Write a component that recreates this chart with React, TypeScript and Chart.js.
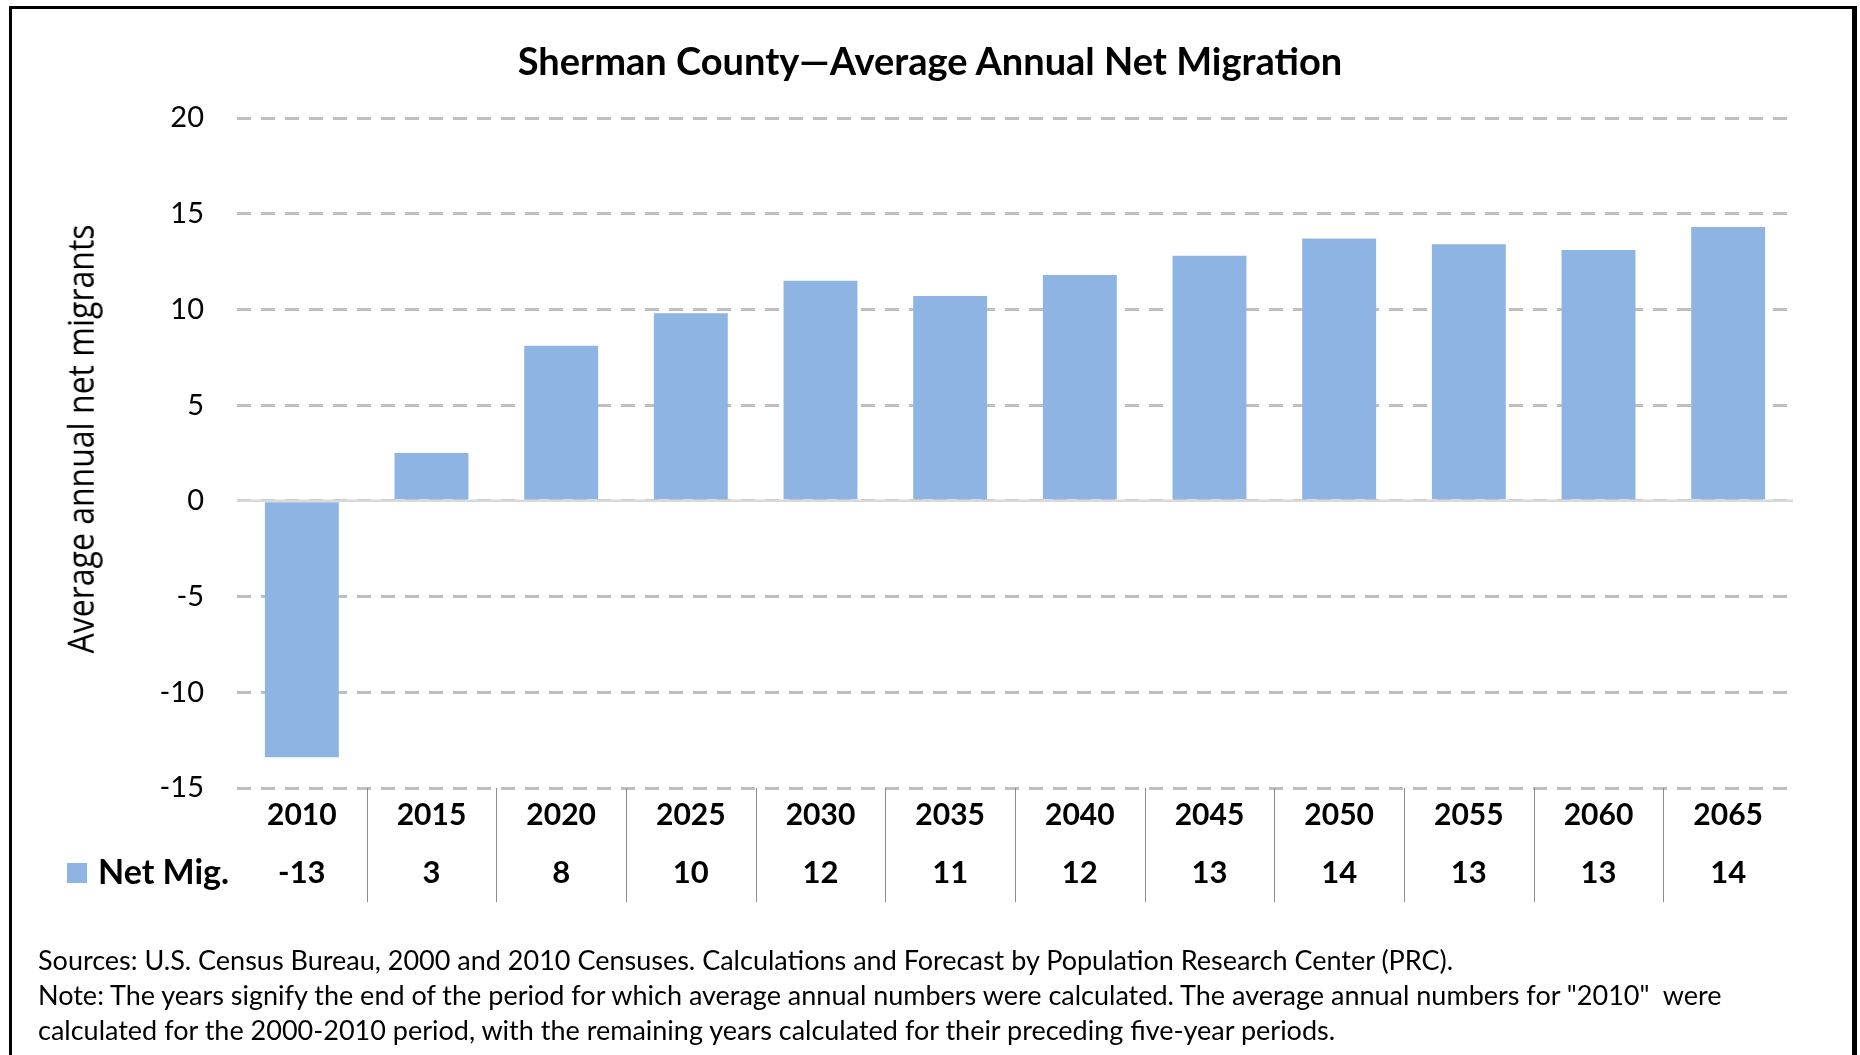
import React, { useEffect, useRef } from "react";
import { Chart, registerables } from "chart.js";

Chart.register(...registerables);

const chartTitle = "Sherman County\u2014Average Annual Net Migration";
const yAxisTitle = "Average annual net migrants";
const seriesName = "Net Mig.";
const years = ["2010", "2015", "2020", "2025", "2030", "2035", "2040", "2045", "2050", "2055", "2060", "2065"];
const netMigration = [-13.4, 2.5, 8.1, 9.8, 11.5, 10.7, 11.8, 12.8, 13.7, 13.4, 13.1, 14.3];
const yMin = -15;
const yMax = 20;
const yStep = 5;
const footnotes = [
  "Sources: U.S. Census Bureau, 2000 and 2010 Censuses. Calculations and Forecast by Population Research Center (PRC).",
  "Note: The years signify the end of the period for which average annual numbers were calculated. The average annual numbers for \"2010\"  were",
  "calculated for the 2000-2010 period, with the remaining years calculated for their preceding five-year periods.",
];

const BAR_COLOR = "#8EB4E3";
const FONT = "Lato";

const zeroLinePlugin = {
  id: "zeroLine",
  beforeDatasetsDraw(chart: any) {
    const { ctx, chartArea, scales } = chart;
    const y = scales.y.getPixelForValue(0);
    ctx.save();
    ctx.strokeStyle = "#D9D9D9";
    ctx.lineWidth = 2.5;
    ctx.beginPath();
    ctx.moveTo(chartArea.left, y);
    ctx.lineTo(chartArea.right, y);
    ctx.stroke();
    ctx.restore();
  },
};

const tablePlugin = {
  id: "dataTable",
  afterDraw(chart: any) {
    const { ctx, chartArea, scales } = chart;
    const xs = scales.x;
    const ds = chart.data.datasets[0];
    ctx.save();
    ctx.strokeStyle = "#8C8C8C";
    ctx.lineWidth = 1;
    for (let i = 0; i < ds.data.length - 1; i++) {
      const x = Math.round((xs.getPixelForValue(i) + xs.getPixelForValue(i + 1)) / 2) + 0.5;
      ctx.beginPath();
      ctx.moveTo(x, chartArea.bottom);
      ctx.lineTo(x, chartArea.bottom + 114);
      ctx.stroke();
    }
    const rowY = chartArea.bottom + 85;
    ctx.fillStyle = ds.backgroundColor;
    ctx.fillRect(67, rowY - 10, 20, 20);
    ctx.fillStyle = "#000";
    ctx.textBaseline = "middle";
    ctx.textAlign = "left";
    ctx.font = `bold 34px ${FONT}`;
    ctx.fillText(ds.label, 98, rowY);
    ctx.font = `bold 31px ${FONT}`;
    ctx.textAlign = "center";
    ds.data.forEach((v: number, i: number) => {
      ctx.fillText(String(Math.round(v)), xs.getPixelForValue(i), rowY);
    });
    ctx.restore();
  },
};

export default function App() {
  const ref = useRef<HTMLCanvasElement>(null);

  useEffect(() => {
    const chart = new Chart(ref.current as HTMLCanvasElement, {
      type: "bar",
      data: {
        labels: years,
        datasets: [
          {
            label: seriesName,
            data: netMigration,
            backgroundColor: BAR_COLOR,
            barPercentage: 0.57,
            categoryPercentage: 1,
          },
        ],
      },
      options: {
        animation: false,
        responsive: false,
        maintainAspectRatio: false,
        devicePixelRatio: 1,
        layout: { padding: { top: 118, right: 67, bottom: 117, left: 0 } },
        plugins: {
          legend: { display: false },
          title: { display: false },
          tooltip: { enabled: false },
        },
        scales: {
          x: {
            grid: { display: false, drawTicks: false },
            border: { display: false },
            ticks: {
              color: "#000",
              font: { family: FONT, size: 30, weight: "bold" },
              padding: 9,
              maxRotation: 0,
              autoSkip: false,
            },
            afterFit: (s: any) => {
              s.height = 150;
            },
          },
          y: {
            min: yMin,
            max: yMax,
            ticks: {
              stepSize: yStep,
              color: "#000",
              font: { family: FONT, size: 29 },
              padding: 33,
            },
            grid: { color: "#BFBFBF", lineWidth: 3, drawTicks: false },
            border: { display: false, dash: [14, 10] },
            afterFit: (s: any) => {
              s.width = 237;
            },
          },
        },
      },
      plugins: [zeroLinePlugin, tablePlugin],
    } as any);
    return () => chart.destroy();
  }, []);

  return (
    <div
      style={{
        position: "absolute",
        left: 0,
        top: 0,
        width: 1860,
        height: 1055,
        overflow: "hidden",
        background: "#fff",
      }}
    >
      <div
        style={{
          position: "absolute",
          left: 9,
          top: 6,
          width: 1840,
          height: 1200,
          borderLeft: "3px solid #000",
          borderTop: "3px solid #000",
          borderRight: "5px solid #000",
        }}
      />
      <canvas
        ref={ref}
        width={1860}
        height={1055}
        style={{ position: "absolute", left: 0, top: 0, width: 1860, height: 1055 }}
      />
      <div
        style={{
          position: "absolute",
          left: 0,
          top: 37.5,
          width: 1860,
          textAlign: "center",
          fontFamily: FONT,
          fontWeight: "bold",
          fontSize: 38,
          lineHeight: 1.2,
          color: "#000",
        }}
      >
        {chartTitle}
      </div>
      <div
        style={{
          position: "absolute",
          left: 80 - 300,
          top: 439 - 22,
          width: 600,
          height: 44,
          lineHeight: "44px",
          textAlign: "center",
          fontFamily: "'Open Sans'",
          fontSize: 32,
          color: "#000",
          transform: "rotate(-90deg) scaleY(1.15)",
          transformOrigin: "center center",
          whiteSpace: "nowrap",
        }}
      >
        {yAxisTitle}
      </div>
      <div
        style={{
          position: "absolute",
          left: 38,
          top: 942,
          fontFamily: FONT,
          fontSize: 27,
          lineHeight: "35px",
          color: "#000",
          whiteSpace: "pre",
        }}
      >
        {footnotes.map((t, i) => (
          <div key={i}>{t}</div>
        ))}
      </div>
    </div>
  );
}
